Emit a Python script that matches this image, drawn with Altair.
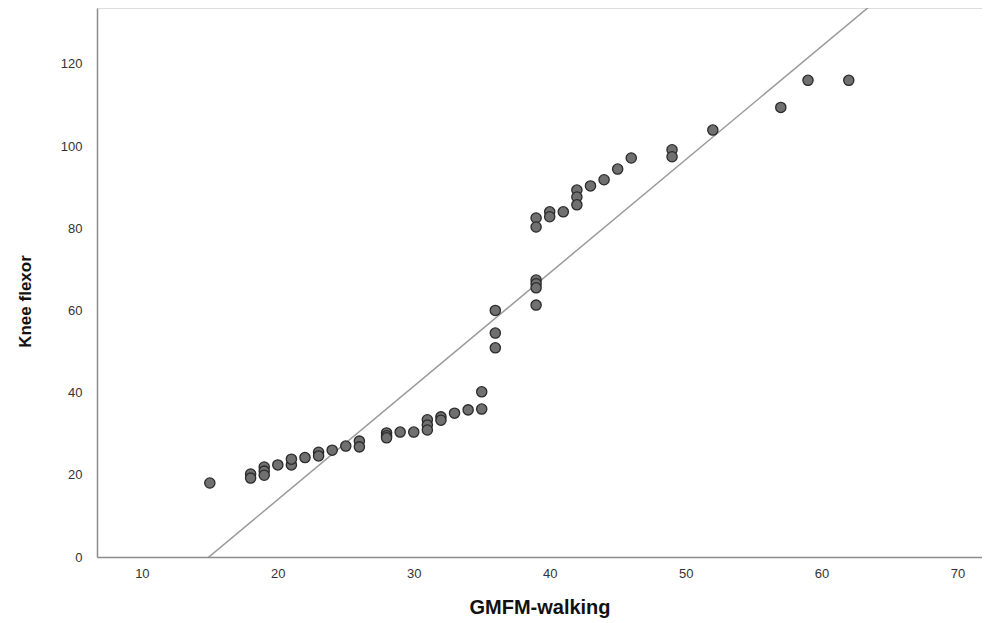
import altair as alt
import pandas as pd

# GMFM-walking (x) and Knee flexor (y) values
gmfm = [15, 18, 18, 19, 19, 19, 20, 21, 21, 22, 23, 23, 24, 25, 26, 26,
        28, 28, 28, 29, 30, 31, 31, 31, 32, 32, 33, 34, 35, 35,
        36, 36, 36, 39, 39, 39, 39, 39, 39, 40, 40, 41, 42, 42, 42,
        43, 44, 45, 46, 49, 49, 52, 57, 59, 62]
knee = [18.0, 20.2, 19.2, 21.9, 20.9, 19.9, 22.4, 22.4, 23.8, 24.2, 25.5, 24.6, 26.0, 27.0, 28.2, 26.8,
        30.2, 29.5, 29.0, 30.4, 30.4, 33.4, 32.1, 30.9, 34.1, 33.3, 35.0, 35.8, 36.0, 40.2,
        60.0, 54.5, 50.9, 67.4, 66.5, 65.5, 61.3, 82.5, 80.3, 84.0, 82.8, 84.0, 89.3, 87.6, 85.7,
        90.3, 91.8, 94.4, 97.1, 99.1, 97.4, 103.9, 109.4, 116.0, 116.0]

fit_slope = 2.757
fit_intercept = -41.16

x_ticks = [10, 20, 30, 40, 50, 60, 70]
y_ticks = [0, 20, 40, 60, 80, 100, 120]
x_domain = [6.7, 71.8]
y_domain = [0, 133.6]

df = pd.DataFrame({"x": gmfm, "y": knee})
line_df = pd.DataFrame({"x": x_domain,
                        "y": [fit_intercept + fit_slope * v for v in x_domain]})

FONT = "Liberation Sans"

xenc = alt.X("x:Q",
             scale=alt.Scale(domain=x_domain, nice=False, zero=False),
             axis=alt.Axis(values=x_ticks, title="GMFM-walking", ticks=False, grid=False,
                           domainColor="#8c8c8c", domainWidth=1.5,
                           labelFontSize=13, labelColor="#333333", labelPadding=10, labelFont=FONT,
                           titleFontSize=20, titleFontWeight="bold", titleColor="#111111",
                           titleFont=FONT, titlePadding=17))
yenc = alt.Y("y:Q",
             scale=alt.Scale(domain=y_domain, nice=False, zero=False),
             axis=alt.Axis(values=y_ticks, title="Knee flexor", ticks=False, grid=False,
                           domainColor="#8c8c8c", domainWidth=1.5,
                           labelFontSize=13, labelColor="#333333", labelPadding=15, labelFont=FONT,
                           titleFontSize=17, titleFontWeight="bold", titleColor="#111111",
                           titleFont=FONT, titleX=-63, titleY=293))

line = alt.Chart(line_df).mark_line(
    color="#9a9a9a", strokeWidth=1.5, clip=True
).encode(x=xenc, y=yenc)

points = alt.Chart(df).mark_point(
    shape="circle", filled=True, fill="#707070", stroke="#2a2a2a", strokeWidth=1.3,
    size=105, opacity=1, fillOpacity=1, strokeOpacity=1
).encode(x=xenc, y=yenc)

chart = alt.layer(line, points).properties(
    width=885, height=549,
    autosize=alt.AutoSizeParams(type="none"),
    padding={"left": 89, "top": 0, "right": 0, "bottom": 66},
).configure_view(stroke=None).configure(background="white")

chart.save("out.html", embed_options={"renderer": "svg", "actions": False})
